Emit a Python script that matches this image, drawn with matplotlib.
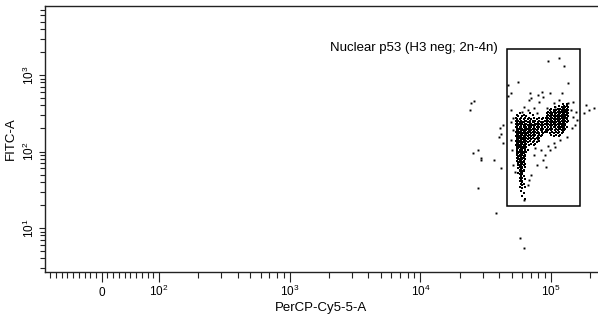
import numpy as np
import matplotlib
matplotlib.use("Agg")
from matplotlib import pyplot as plt
from matplotlib import font_manager
from matplotlib.patches import Rectangle
from matplotlib.ticker import FixedLocator, FixedFormatter, NullFormatter

installed = {f.name for f in font_manager.fontManager.ttflist}
tick_font = "Liberation Sans Narrow" if "Liberation Sans Narrow" in installed else "Liberation Sans"
plt.rcParams["font.family"] = ["Liberation Sans", "DejaVu Sans"]
plt.rcParams["mathtext.default"] = "regular"

# events as log10 values
# rows: (log10 FITC-A, [log10 PerCP-Cy5-5-A, ...])
left_lobe_rows = [
    (2.50, [4.76, 4.84]),
    (2.48, [4.74, 4.79, 4.86]),
    (2.46, [4.75, 4.78, 4.81]),
    (2.44, [4.73, 4.77, 4.80, 4.83]),
    (2.42, [4.74, 4.76, 4.79, 4.82, 4.85]),
    (2.40, [4.73, 4.75, 4.77, 4.80, 4.81, 4.84]),
    (2.38, [4.74, 4.76, 4.78, 4.79, 4.82, 4.83, 4.86]),
    (2.36, [4.73, 4.75, 4.76, 4.78, 4.80, 4.81, 4.84]),
    (2.34, [4.74, 4.75, 4.77, 4.79, 4.80, 4.82, 4.85]),
    (2.32, [4.73, 4.74, 4.76, 4.77, 4.79, 4.81, 4.83]),
    (2.30, [4.74, 4.75, 4.76, 4.78, 4.80, 4.81, 4.82, 4.86]),
    (2.28, [4.74, 4.75, 4.77, 4.78, 4.79, 4.81, 4.83]),
    (2.26, [4.73, 4.75, 4.76, 4.77, 4.79, 4.80, 4.82, 4.84]),
    (2.24, [4.74, 4.75, 4.76, 4.78, 4.79, 4.81, 4.82]),
    (2.22, [4.74, 4.75, 4.77, 4.78, 4.80, 4.81, 4.83]),
    (2.20, [4.73, 4.75, 4.76, 4.77, 4.79, 4.80, 4.82]),
    (2.18, [4.74, 4.75, 4.76, 4.78, 4.79, 4.81, 4.83]),
    (2.16, [4.74, 4.75, 4.77, 4.78, 4.79, 4.80, 4.82]),
    (2.14, [4.73, 4.75, 4.76, 4.77, 4.79, 4.81]),
    (2.12, [4.74, 4.75, 4.76, 4.78, 4.79, 4.80, 4.82]),
    (2.10, [4.74, 4.75, 4.77, 4.78, 4.80, 4.81]),
    (2.08, [4.73, 4.75, 4.76, 4.77, 4.79, 4.80, 4.83]),
    (2.06, [4.74, 4.75, 4.76, 4.78, 4.79, 4.81]),
    (2.04, [4.74, 4.75, 4.77, 4.78, 4.79, 4.80]),
    (2.02, [4.74, 4.76, 4.77, 4.78, 4.80, 4.82]),
    (2.00, [4.74, 4.75, 4.76, 4.78, 4.79, 4.81]),
    (1.98, [4.74, 4.75, 4.77, 4.78, 4.79]),
    (1.96, [4.74, 4.76, 4.77, 4.78, 4.80]),
    (1.94, [4.75, 4.76, 4.77, 4.79, 4.80]),
    (1.92, [4.74, 4.75, 4.77, 4.78, 4.79]),
    (1.90, [4.75, 4.76, 4.77, 4.78, 4.80]),
    (1.88, [4.74, 4.76, 4.77, 4.79]),
    (1.86, [4.75, 4.76, 4.78, 4.79]),
    (1.84, [4.75, 4.77, 4.78, 4.80]),
    (1.82, [4.75, 4.76, 4.77, 4.79]),
    (1.80, [4.76, 4.77, 4.78, 4.80]),
    (1.78, [4.75, 4.77, 4.78]),
    (1.76, [4.76, 4.77, 4.79]),
    (1.74, [4.76, 4.78, 4.79]),
    (1.72, [4.75, 4.77, 4.78]),
    (1.70, [4.76, 4.78]),
    (1.68, [4.77, 4.79]),
    (1.66, [4.76, 4.78]),
    (1.64, [4.77, 4.80]),
    (1.62, [4.76, 4.78]),
    (1.60, [4.78]),
    (1.58, [4.77, 4.79]),
    (1.56, [4.78]),
    (1.54, [4.76, 4.80]),
    (1.52, [4.78]),
    (1.48, [4.77]),
    (1.46, [4.79]),
    (1.42, [4.78]),
    (1.38, [4.80]),
]

bridge_rows = [
    (2.44, [4.87, 4.91, 4.94]),
    (2.42, [4.85, 4.89, 4.93]),
    (2.40, [4.86, 4.88, 4.91, 4.95]),
    (2.38, [4.84, 4.87, 4.90, 4.92, 4.94]),
    (2.36, [4.85, 4.88, 4.89, 4.91, 4.93, 4.95]),
    (2.34, [4.84, 4.86, 4.88, 4.90, 4.92, 4.94]),
    (2.32, [4.85, 4.87, 4.89, 4.91, 4.93, 4.95]),
    (2.30, [4.84, 4.86, 4.88, 4.90, 4.92, 4.94]),
    (2.28, [4.85, 4.87, 4.89, 4.92, 4.93, 4.96]),
    (2.26, [4.84, 4.86, 4.88, 4.90, 4.93, 4.95]),
    (2.24, [4.85, 4.87, 4.89, 4.91, 4.94]),
    (2.22, [4.84, 4.86, 4.88, 4.91, 4.93]),
    (2.20, [4.85, 4.87, 4.90, 4.92]),
    (2.18, [4.84, 4.86, 4.89, 4.91]),
    (2.16, [4.85, 4.88, 4.90]),
    (2.14, [4.84, 4.87, 4.91]),
    (2.12, [4.86, 4.89]),
    (2.10, [4.85, 4.88]),
    (2.08, [4.87]),
]

right_lobe_rows = [
    (2.62, [5.09, 5.12]),
    (2.60, [5.06, 5.10, 5.12]),
    (2.58, [5.03, 5.08, 5.10, 5.11, 5.13]),
    (2.56, [5.00, 5.05, 5.07, 5.09, 5.10, 5.12]),
    (2.54, [4.99, 5.02, 5.04, 5.06, 5.08, 5.09, 5.11, 5.12, 5.13]),
    (2.52, [4.98, 5.00, 5.02, 5.03, 5.05, 5.07, 5.08, 5.10, 5.11, 5.12]),
    (2.50, [4.97, 4.99, 5.01, 5.03, 5.04, 5.06, 5.07, 5.09, 5.10, 5.12, 5.13]),
    (2.48, [4.98, 5.00, 5.01, 5.03, 5.05, 5.06, 5.08, 5.09, 5.11, 5.12]),
    (2.46, [4.97, 4.99, 5.00, 5.02, 5.04, 5.05, 5.07, 5.08, 5.10, 5.11, 5.13]),
    (2.44, [4.96, 4.98, 5.00, 5.01, 5.03, 5.05, 5.06, 5.08, 5.09, 5.11, 5.12]),
    (2.42, [4.97, 4.99, 5.00, 5.02, 5.04, 5.05, 5.07, 5.09, 5.10, 5.12]),
    (2.40, [4.96, 4.98, 5.00, 5.01, 5.03, 5.05, 5.06, 5.08, 5.09, 5.11, 5.13]),
    (2.38, [4.97, 4.99, 5.01, 5.02, 5.04, 5.06, 5.07, 5.09, 5.10, 5.12]),
    (2.36, [4.96, 4.98, 5.00, 5.02, 5.03, 5.05, 5.07, 5.08, 5.10, 5.11]),
    (2.34, [4.97, 4.99, 5.01, 5.03, 5.04, 5.06, 5.08, 5.09, 5.11]),
    (2.32, [4.98, 5.00, 5.02, 5.03, 5.05, 5.07, 5.08, 5.10, 5.12]),
    (2.30, [4.97, 4.99, 5.01, 5.04, 5.06, 5.07, 5.09, 5.11]),
    (2.28, [4.98, 5.00, 5.03, 5.05, 5.08, 5.10]),
    (2.26, [4.97, 5.01, 5.04, 5.06, 5.09]),
    (2.24, [4.99, 5.02, 5.05, 5.08]),
    (2.22, [5.00, 5.04, 5.07]),
    (2.20, [5.02, 5.06]),
]

# sparse events: (log10 PerCP-Cy5-5-A, log10 FITC-A)
sparse_events = [
    (4.98, 3.18), (5.06, 3.22), (5.10, 3.12), (4.75, 2.91), (4.67, 2.87),
    (5.13, 2.90), (4.69, 2.76), (4.67, 2.73), (4.84, 2.76), (4.93, 2.78),
    (4.99, 2.76), (5.08, 2.76), (4.83, 2.67), (4.91, 2.65), (5.02, 2.63),
    (5.06, 2.67), (4.79, 2.58), (4.82, 2.54), (4.87, 2.57), (4.97, 2.57),
    (5.15, 2.54), (5.20, 2.41), (5.19, 2.52), (4.85, 2.70), (4.90, 2.74),
    (4.94, 2.71), (4.78, 2.52), (4.89, 2.50), (5.03, 2.58), (5.13, 2.63),
    (5.17, 2.65), (5.17, 2.45), (4.69, 2.39), (4.71, 2.28), (4.69, 2.54),
    (4.71, 2.44), (5.16, 2.31), (5.18, 2.35),
    (4.41, 2.66), (4.39, 2.63), (4.38, 2.54), (4.40, 1.98), (4.44, 2.02),
    (4.46, 1.92), (4.46, 1.89), (4.56, 1.89), (4.62, 1.78), (4.44, 1.52),
    (4.58, 1.20), (4.76, 0.87), (4.79, 0.74), (4.62, 2.23), (4.63, 2.11),
    (4.60, 2.19), (4.61, 2.31), (4.63, 2.35),
    (4.79, 1.37), (4.89, 1.82), (4.96, 1.80), (4.83, 1.63), (4.87, 1.95),
    (4.92, 2.02), (4.98, 2.07), (5.02, 2.11), (5.07, 2.15), (5.12, 2.19),
    (4.70, 2.02), (4.71, 1.82), (4.72, 1.73), (4.69, 2.15), (4.94, 1.89),
    (4.82, 1.56), (4.85, 1.69), (4.90, 2.15), (4.95, 1.95), (4.99, 2.02),
    (5.03, 2.06), (4.88, 2.05),
    (5.27, 2.61), (5.29, 2.54), (5.33, 2.57), (5.25, 2.50),
]

gate_x = (45600, 166700)
gate_y = (19.4, 2190)
gate_label = "Nuclear p53 (H3 neg; 2n-4n)"

x_major = [0, 1e2, 1e3, 1e4, 1e5]
x_major_labels = ["0", "$10^2$", "$10^3$", "$10^4$", "$10^5$"]
y_major = [1e1, 1e2, 1e3]
y_major_labels = ["$10^1$", "$10^2$", "$10^3$"]


def flatten(rows):
    return [(x, y) for y, xs in rows for x in xs]


dense = np.array(flatten(left_lobe_rows) + flatten(bridge_rows) + flatten(right_lobe_rows))
sparse = np.array(sparse_events)

fig = plt.figure(figsize=(5.98, 3.2), dpi=100)
ax = fig.add_axes([45 / 598, 48 / 320, 553 / 598, 266 / 320])

ax.set_xscale("symlog", linthresh=100, linscale=0.3946)
ax.set_yscale("log")
ax.set_xlim(-99, 2.285e5)
ax.set_ylim(2.66, 7980)

ax.plot(10 ** dense[:, 0], 10 ** dense[:, 1], "s", ms=2.15, mew=0, color="black", zorder=2)
ax.plot(10 ** sparse[:, 0], 10 ** sparse[:, 1], "s", ms=1.4, mew=0, color="black", zorder=2)

ax.add_patch(Rectangle((gate_x[0], gate_y[0]), gate_x[1] - gate_x[0],
                       gate_y[1] - gate_y[0], fill=False, ec="black", lw=1.1, zorder=3))
ax.annotate(gate_label, xy=(gate_x[0], gate_y[1]), xytext=(-6.5, 0.5),
            textcoords="offset points", ha="right", va="center", fontsize=9.5)

# ticks
x_minor = ([-v for v in range(10, 100, 10)] + list(range(10, 100, 10))
           + [m * 10 ** e for e in (2, 3, 4) for m in range(2, 10)] + [2e5])
y_minor = [m * 10 ** e for e in (0, 1, 2, 3) for m in range(2, 10)]
y_minor = [v for v in y_minor if 2.66 < v < 7980]

ax.xaxis.set_major_locator(FixedLocator(x_major))
ax.xaxis.set_major_formatter(FixedFormatter(x_major_labels))
ax.xaxis.set_minor_locator(FixedLocator(x_minor))
ax.xaxis.set_minor_formatter(NullFormatter())
ax.yaxis.set_major_locator(FixedLocator(y_major))
ax.yaxis.set_major_formatter(FixedFormatter(y_major_labels))
ax.yaxis.set_minor_locator(FixedLocator(y_minor))
ax.yaxis.set_minor_formatter(NullFormatter())

ax.tick_params(axis="x", which="major", length=7.2, width=0.8, pad=10,
               labelsize=8.5, color="#222222")
ax.tick_params(axis="x", which="minor", length=4.3, width=0.8, color="#222222")
ax.tick_params(axis="y", which="major", length=4, width=0.8, pad=1.5,
               labelsize=8.5, color="#222222")
ax.tick_params(axis="y", which="minor", length=3.6, width=0.8, color="#222222")
for t in ax.get_xticklabels():
    t.set_va("baseline")
    t.set_family(tick_font)
for t in ax.get_yticklabels():
    t.set_rotation(90)
    t.set_va("center")
    t.set_family(tick_font)

for side in ("left", "bottom", "top"):
    ax.spines[side].set_linewidth(1.0)
    ax.spines[side].set_color("#222222")
ax.spines["right"].set_visible(False)

ax.set_xlabel("PerCP-Cy5-5-A", fontsize=9.5, labelpad=2)
ax.set_ylabel("FITC-A", fontsize=9.5, labelpad=4)

fig.savefig("out.png", dpi=100)
